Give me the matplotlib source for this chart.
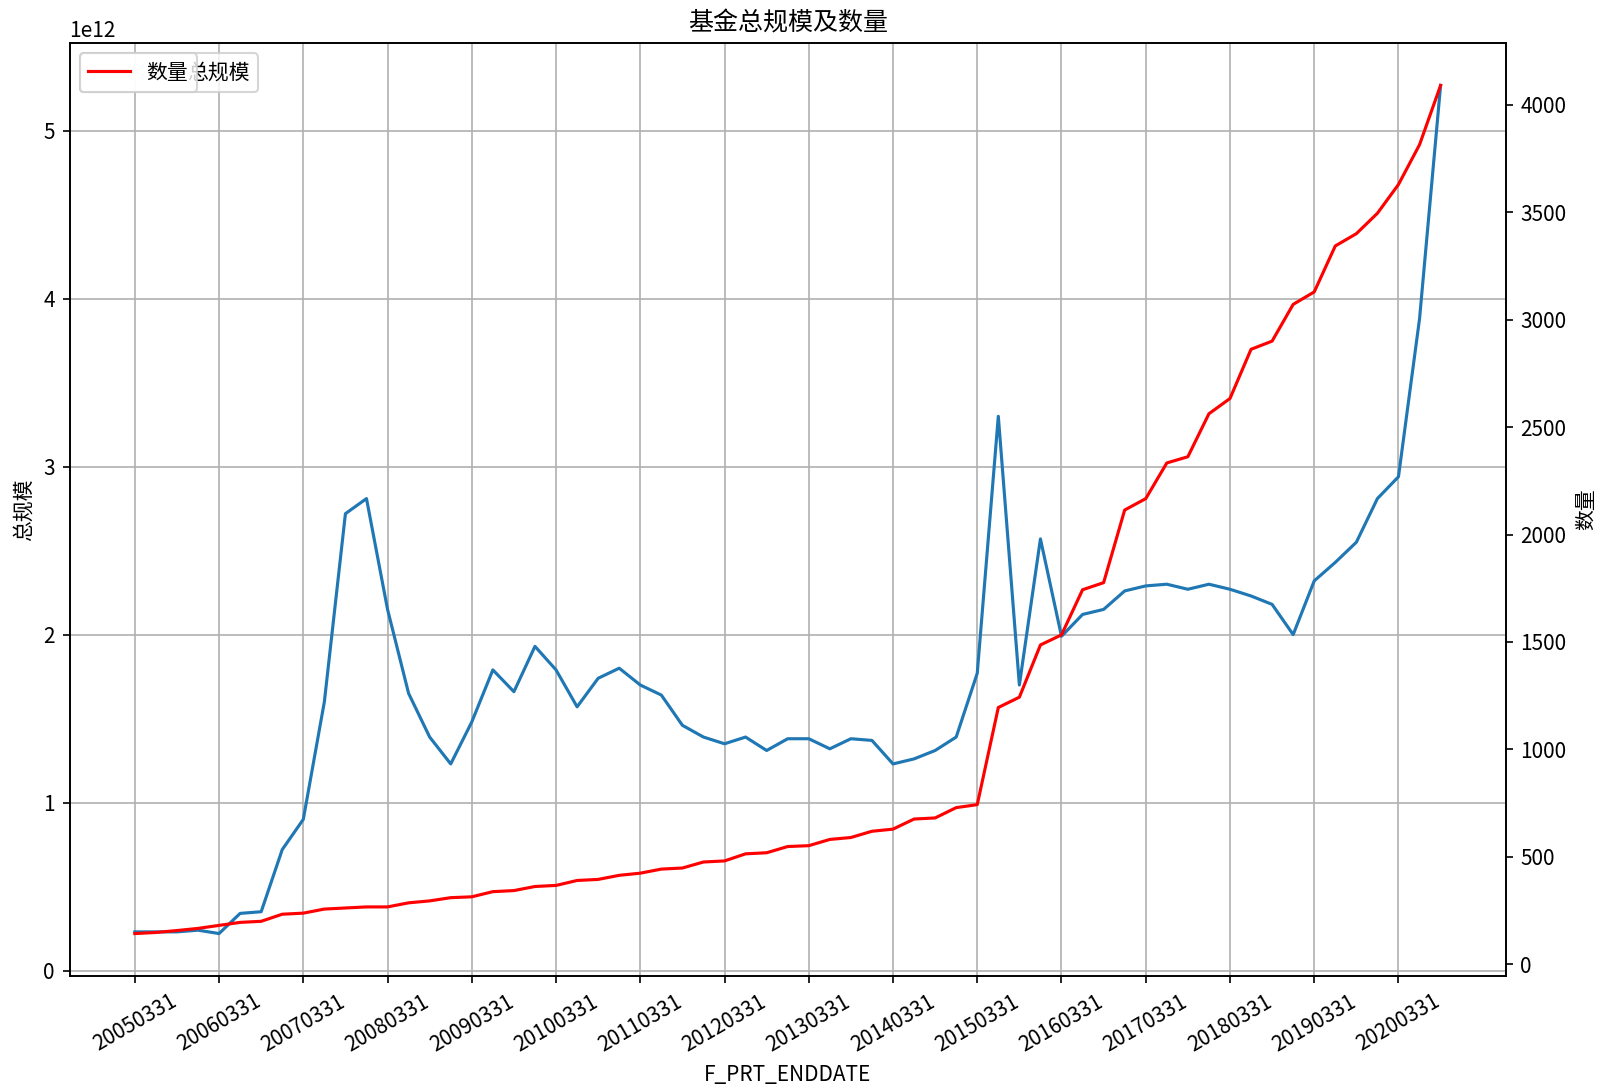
import numpy as np
import pandas as pd
import matplotlib
matplotlib.use("Agg")
import matplotlib.pyplot as plt

plt.rcParams['font.family'] = ['Noto Sans CJK SC', 'DejaVu Sans']
plt.rcParams['axes.unicode_minus'] = False

# quarter-end report dates, 2005Q1 .. 2020Q3
dates = list(pd.date_range('2005-03-31', periods=63, freq='QE').strftime('%Y%m%d'))

# total fund size (yuan)
scale = np.array([
    0.23, 0.23, 0.23, 0.24, 0.22, 0.34, 0.35, 0.72, 0.90, 1.60,
    2.72, 2.81, 2.15, 1.65, 1.39, 1.23, 1.48, 1.79, 1.66, 1.93,
    1.79, 1.57, 1.74, 1.80, 1.70, 1.64, 1.46, 1.39, 1.35, 1.39,
    1.31, 1.38, 1.38, 1.32, 1.38, 1.37, 1.23, 1.26, 1.31, 1.39,
    1.77, 3.30, 1.70, 2.57, 1.99, 2.12, 2.15, 2.26, 2.29, 2.30,
    2.27, 2.30, 2.27, 2.23, 2.18, 2.00, 2.32, 2.43, 2.55, 2.81,
    2.94, 3.88, 5.27]) * 1e12

# number of funds
count = [
    143, 148, 157, 167, 181, 195, 200, 233, 238, 257,
    262, 267, 267, 286, 295, 310, 314, 338, 343, 362,
    367, 390, 395, 414, 424, 443, 448, 476, 481, 514,
    519, 548, 552, 581, 590, 619, 629, 676, 681, 729,
    743, 1195, 1243, 1486, 1533, 1743, 1776, 2114, 2167, 2333,
    2362, 2562, 2633, 2862, 2900, 3071, 3129, 3343, 3400, 3495,
    3629, 3814, 4090]

x = np.arange(len(dates))

fig = plt.figure(figsize=(1602 / 150, 1089 / 150), dpi=150)
ax1 = fig.add_axes([0.0434, 0.1038, 0.8966, 0.8567])
ax1.plot(x, scale, color='#1f77b4')
ax1.set_ylabel('总规模')
ax1.set_xlabel('F_PRT_ENDDATE')
ax1.grid(True)
ax1.set_xticks(x[::4])
ax1.set_xticklabels(dates[::4], rotation=30)
# the size legend sits behind the count legend; its label starts where "数量" ends
ax1.legend(['总规模'], loc='upper left', handletextpad=2.75)

ax2 = ax1.twinx()
ax2.plot(x, count, color='red')
ax2.set_ylabel('数量')
ax2.legend(['数量'], loc='upper left')

ax1.set_title('基金总规模及数量')

fig.savefig('out.png', dpi=150)
